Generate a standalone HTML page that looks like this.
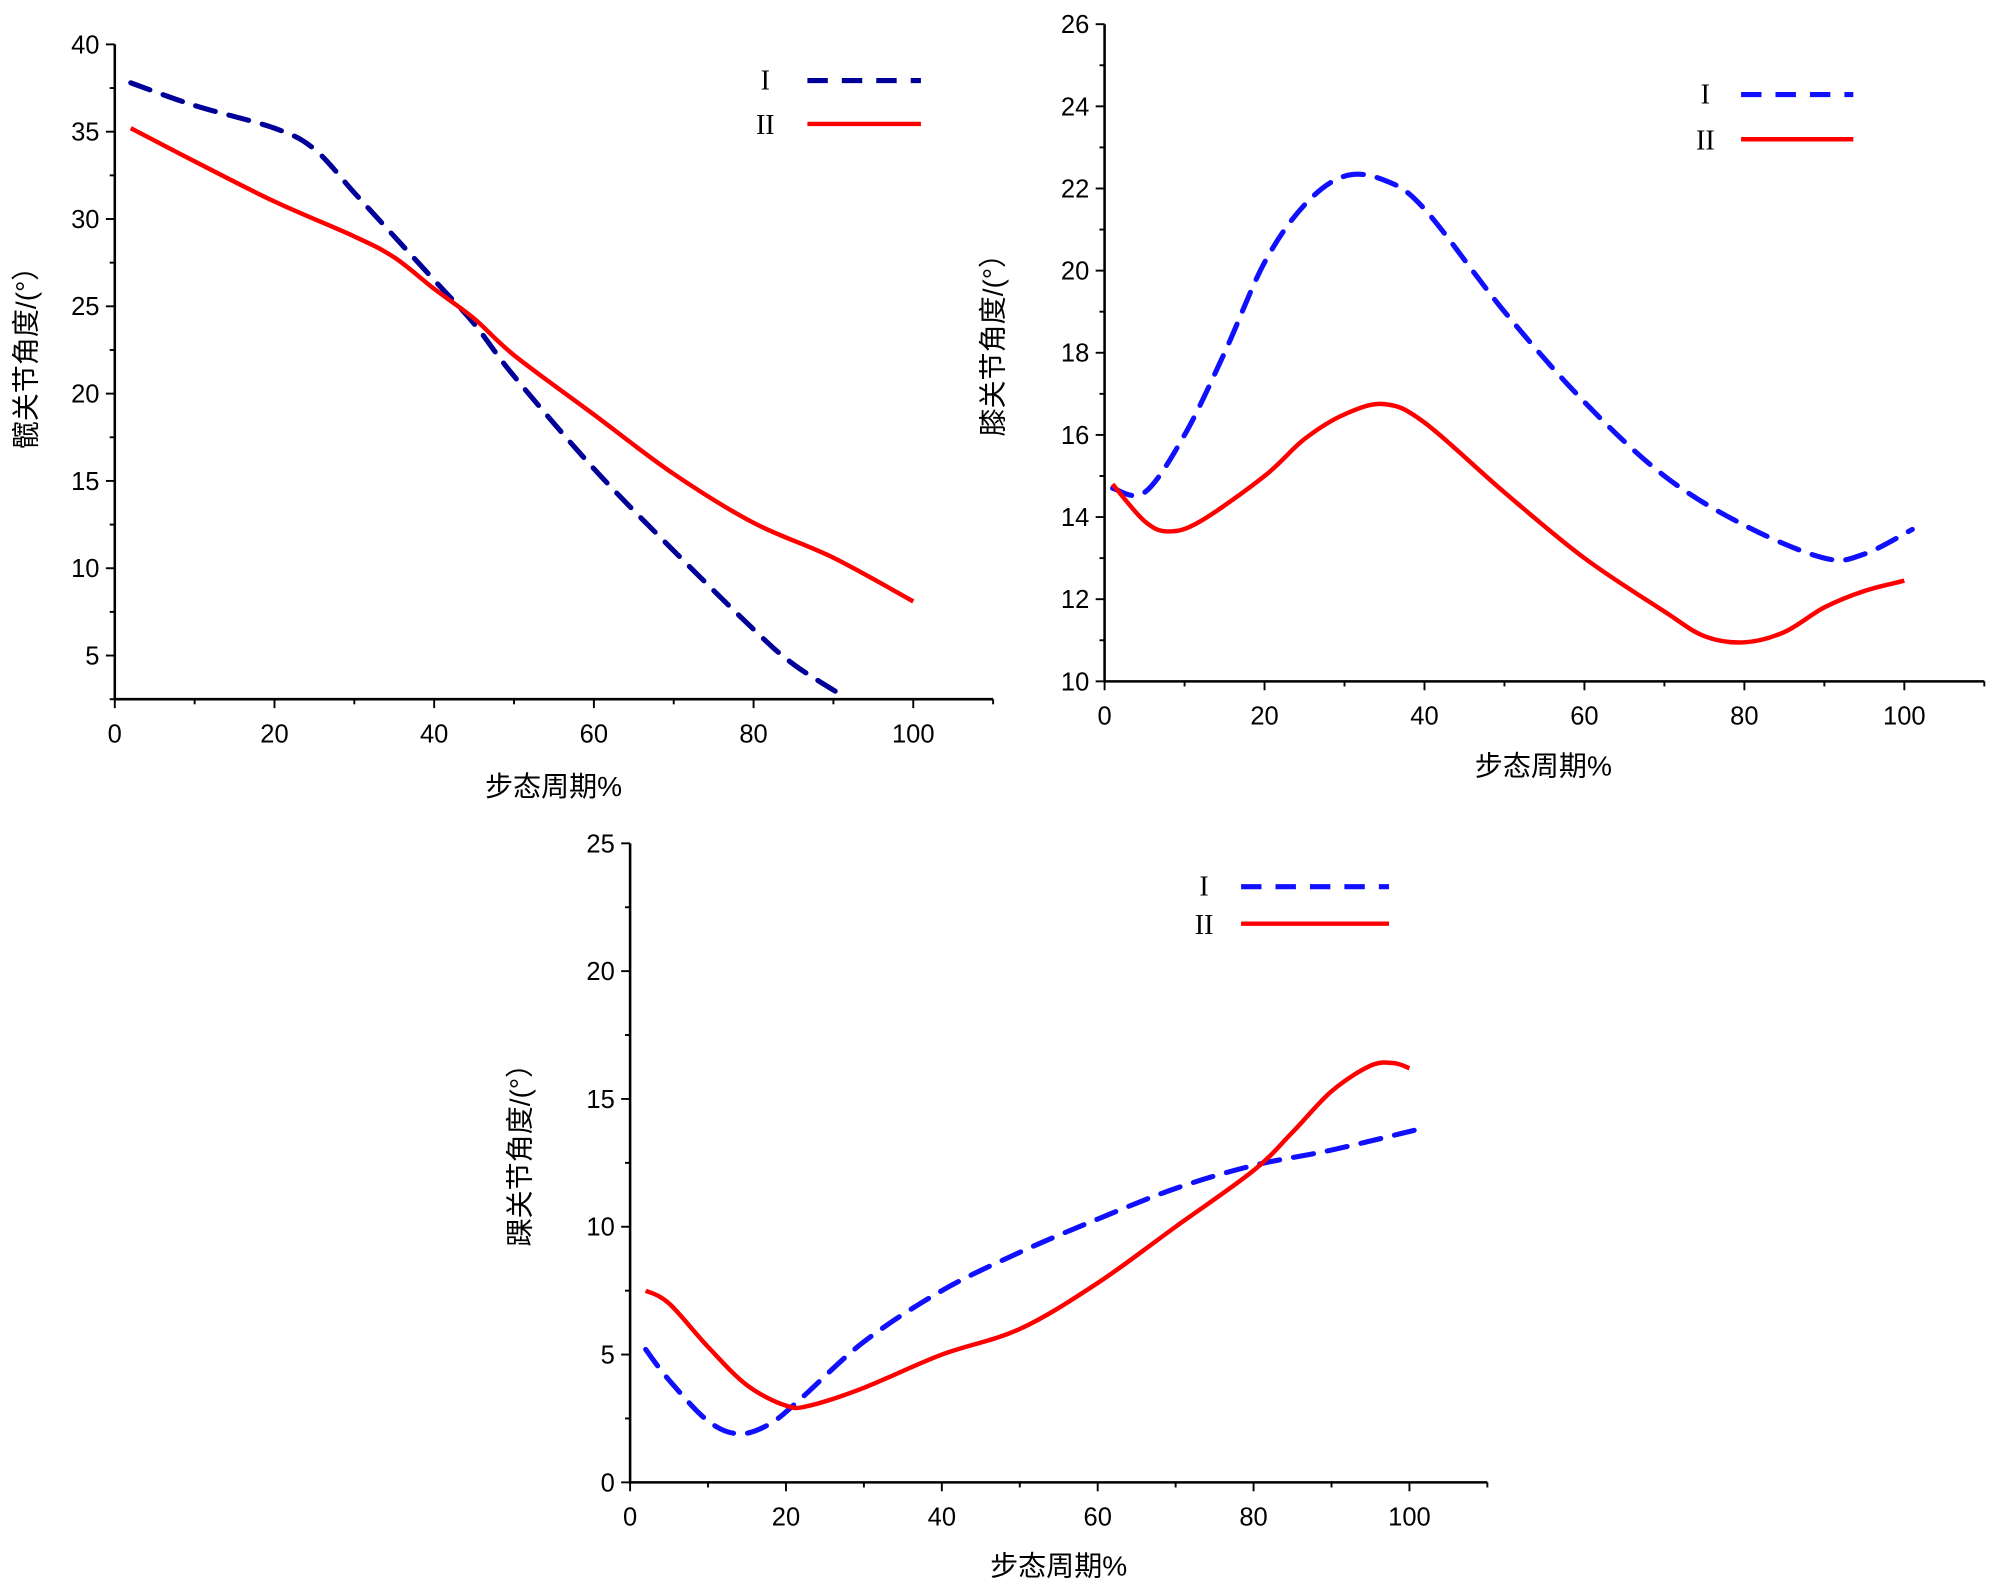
<!DOCTYPE html>
<html><head><meta charset="utf-8"><style>
html,body{margin:0;padding:0;background:#fff}
svg{display:block}
text{font-family:"Liberation Sans","Noto Sans CJK SC",sans-serif;fill:#000}
.leg{font-family:"Liberation Serif","Noto Serif CJK SC",serif}
</style></head><body>
<svg id="c" width="2000" height="1591" viewBox="0 0 1568 1247" xmlns="http://www.w3.org/2000/svg"></svg>
<script>
// Hip chart
const hipBlueX=[2,10,20,25,30,35,40,45,50,60,70,80,85,91.5];
const hipBlueY=[37.8,36.5,35.2,34,31.5,29,26.5,24,21,15.7,11,6.5,4.5,2.6];
const hipRedX=[2,10,20,30,35,40,45,50,60,70,80,90,100];
const hipRedY=[35.2,33.3,31,29,27.8,26,24.3,22.2,18.8,15.4,12.6,10.6,8.1];
const hipYTicks=[5,10,15,20,25,30,35,40];
// Knee chart
const kneeBlueX=[1,5,10,15,20,25,30,35,40,50,60,70,80,90,95,101];
const kneeBlueY=[14.7,14.6,16,18,20.2,21.6,22.3,22.2,21.5,19,16.8,15,13.8,13,13.1,13.7];
const kneeRedX=[1,5,8,12,20,25,30,35,40,50,60,70,75,80,85,90,95,100];
const kneeRedY=[14.8,13.9,13.65,13.9,15,15.9,16.5,16.75,16.3,14.6,13,11.7,11.1,10.95,11.2,11.8,12.2,12.45];
const kneeYTicks=[10,12,14,16,18,20,22,24,26];
// Ankle chart
const ankBlueX=[2,5,10,14,18,22,30,40,50,60,70,80,90,101];
const ankBlueY=[5.2,4,2.4,1.9,2.3,3.3,5.5,7.5,9,10.3,11.5,12.4,13,13.8];
const ankRedX=[2,5,10,15,20,23,30,40,50,60,70,80,85,90,95,98,100];
const ankRedY=[7.5,7,5.3,3.8,3,3,3.7,5,6,7.8,10,12.2,13.7,15.3,16.3,16.4,16.2];
const ankYTicks=[0,5,10,15,20,25];
const xTicks=[0,20,40,60,80,100];

const NS="http://www.w3.org/2000/svg";
const svg=document.getElementById('c');
function mk(tag,attrs,parent){const e=document.createElementNS(NS,tag);for(const k in attrs)e.setAttribute(k,attrs[k]);(parent||svg).appendChild(e);return e;}
function smooth(p){let d=`M${p[0][0]},${p[0][1]}`;for(let i=0;i<p.length-1;i++){const p0=p[i-1]||p[i],p1=p[i],p2=p[i+1],p3=p[i+2]||p2;d+=` C${p1[0]+(p2[0]-p0[0])/6},${p1[1]+(p2[1]-p0[1])/6} ${p2[0]-(p3[0]-p1[0])/6},${p2[1]-(p3[1]-p1[1])/6} ${p2[0]},${p2[1]}`;}return d;}

function chart(o){
  const g=mk('g',{});
  
  
  const sx=v=>o.x0+(v)*o.kx, sy=v=>o.y0-(v-o.ymin)*o.ky;
  const ax=mk('path',{d:`M${o.x0},${sy(o.ymax)} L${o.x0},${o.y0} L${sx(110)},${o.y0}`,stroke:'#000','stroke-width':2,fill:'none'},g);
  
  
  for(let v=0;v<=110;v+=10){const big=v%20==0;mk('line',{x1:sx(v),x2:sx(v),y1:o.y0,y2:o.y0+(big?7:4),stroke:'#000','stroke-width':1.5},g);}
  xTicks.forEach(v=>{const t=mk('text',{x:sx(v),y:o.y0+34,'font-size':20,'text-anchor':'middle'},g);t.textContent=v;
    
    });
  const st=o.yt[1]-o.yt[0];
  for(let v=o.yt[0]-st/2;v<=o.ymax+1e-6;v+=st/2){if(v<o.ymin-1e-6)continue;const big=Math.abs(((v-o.yt[0])/st)%1)<1e-6;mk('line',{x1:o.x0,x2:o.x0-(big?7:4),y1:sy(v),y2:sy(v),stroke:'#000','stroke-width':1.5},g);}
  o.yt.forEach(v=>{const t=mk('text',{x:o.x0-12,y:sy(v)+7,'font-size':20,'text-anchor':'end'},g);t.textContent=v;
    
    });
  const b=mk('path',{d:smooth(o.bx.map((v,i)=>[sx(v),sy(o.by[i])])),stroke:o.blue,'stroke-width':4,fill:'none','stroke-dasharray':'16 11','stroke-linecap':'round'},g);
  
  
  const r=mk('path',{d:smooth(o.rx.map((v,i)=>[sx(v),sy(o.ry[i])])),stroke:'#f00','stroke-width':3.5,fill:'none'},g);
  
  
  const L=o.leg;
  const t1=mk('text',{x:L[0],y:L[1]+7,'font-size':22,'text-anchor':'middle',class:'leg'},g);t1.textContent='I';
  
  
  mk('line',{x1:L[2],x2:L[3],y1:L[1],y2:L[1],stroke:o.blue,'stroke-width':4,'stroke-dasharray':'16 11'},g);
  const t2=mk('text',{x:L[0],y:L[4]+8,'font-size':22,'text-anchor':'middle',class:'leg'},g);t2.textContent='II';
  
  
  mk('line',{x1:L[2],x2:L[3],y1:L[4],y2:L[4],stroke:'#f00','stroke-width':3.5},g);
  const xl=mk('text',{x:o.xl[0],y:o.xl[1],'font-size':22,'text-anchor':'middle'},g);xl.textContent='步态周期%';
  
  
  const yl=mk('text',{x:0,y:0,'font-size':22,'text-anchor':'middle',transform:`translate(${o.yl[0]},${o.yl[1]}) rotate(-90)`},g);yl.textContent=o.ytitle;
  
  
}
chart({name:'hip-chart',x0:90,y0:548,kx:6.26,ky:13.69,ymin:2.5,ymax:40,yt:hipYTicks,bx:hipBlueX,by:hipBlueY,rx:hipRedX,ry:hipRedY,blue:'#000099',leg:[600,63,633,722,97],xl:[434,624],yl:[28,275],ytitle:'髋关节角度/(°）'});
chart({name:'knee-chart',x0:866,y0:534,kx:6.27,ky:32.2,ymin:10,ymax:26,yt:kneeYTicks,bx:kneeBlueX,by:kneeBlueY,rx:kneeRedX,ry:kneeRedY,blue:'#1010ff',leg:[1337,74,1365,1453,109],xl:[1210,608],yl:[786,265],ytitle:'膝关节角度/(°）'});
chart({name:'ankle-chart',x0:494,y0:1162,kx:6.11,ky:20.04,ymin:0,ymax:25,yt:ankYTicks,bx:ankBlueX,by:ankBlueY,rx:ankRedX,ry:ankRedY,blue:'#1010ff',leg:[944,695,973,1089,724],xl:[830,1235],yl:[415,900],ytitle:'踝关节角度/(°）'});
</script>
</body></html>
